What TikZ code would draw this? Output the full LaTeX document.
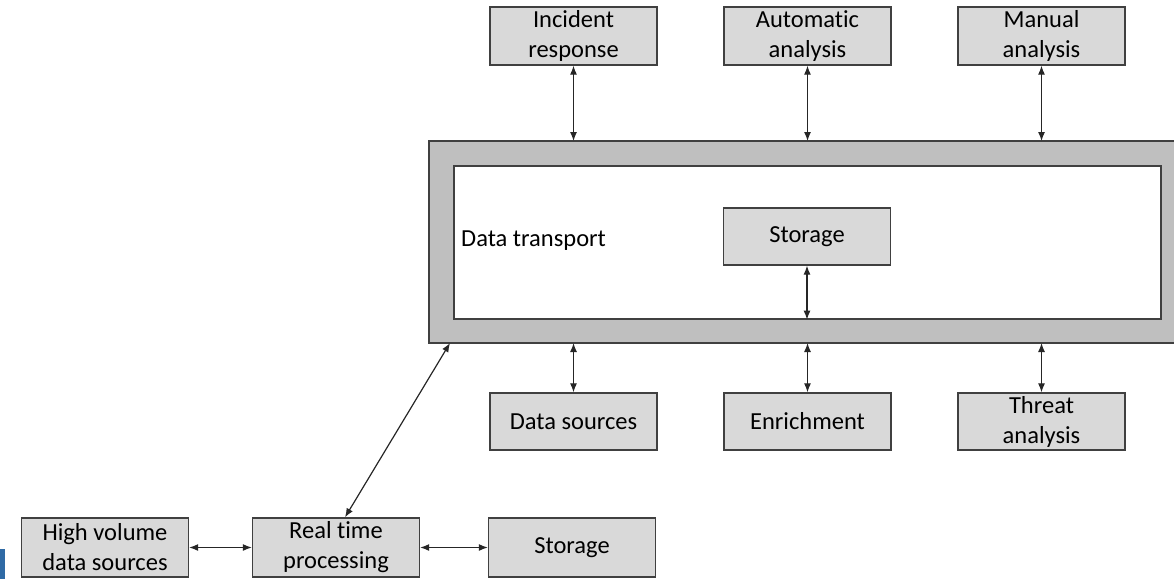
\documentclass[tikz,border=0pt]{standalone}
\usepackage{fontspec}
\setmainfont{Carlito}[Ligatures=NoCommon]
\usetikzlibrary{arrows.meta}
\definecolor{boxfill}{HTML}{D9D9D9}
\definecolor{framefill}{HTML}{BFBFBF}
\definecolor{edge}{HTML}{404040}
\definecolor{markblue}{HTML}{2F6AA5}
\begin{document}
\begin{tikzpicture}[x=1pt,y=-1pt,
  gbox/.style={draw=edge, line width=1.3pt, fill=boxfill, minimum width=167pt, minimum height=58pt,
    inner sep=0pt, align=center, font=\fontsize{24.5}{30}\selectfont},
  link/.style={{Latex[length=9pt,width=7pt]}-{Latex[length=9pt,width=7pt]}, line width=1.2pt, draw=black!85},
  lbl/.style={font=\fontsize{24.5}{30}\selectfont, inner sep=0pt}]
\useasboundingbox (0,0) rectangle (1174,579);
% blue mark
\fill[markblue] (0,549) rectangle (5,579);
% outer frame
\fill[framefill] (429,141) rectangle (1174,343);
\draw[edge, line width=1.3pt] (1174,141) -- (429,141) -- (429,343) -- (1174,343);
\coordinate (outerNW) at (429,141);
\coordinate (outerSW) at (429,343);
\node[draw=edge, line width=1.3pt, fill=white, minimum width=707pt, minimum height=153pt, inner sep=0pt] (inner) at (807.5,242.5) {};
\node[lbl, anchor=west] (dt) at (461,241) {Data transport};
\node[gbox, minimum height=57pt] (store) at (807,236.5) {Storage};
% top boxes
\node[gbox] (ir) at (573.5,36) {Incident\\response};
\node[gbox] (aa) at (807.5,36) {Automatic\\analysis};
\node[gbox] (ma) at (1041.5,36) {Manual\\analysis};
% bottom boxes
\node[gbox, minimum height=57pt] (ds) at (573.5,421.5) {Data sources};
\node[gbox, minimum height=57pt] (en) at (807.5,421.5) {Enrichment};
\node[gbox, minimum height=57pt] (ta) at (1041.5,421.5) {Threat\\analysis};
% bottom row
\node[gbox, minimum height=59pt] (hv) at (105,547.5) {High volume\\data sources};
\node[gbox, minimum height=59pt] (rt) at (336,547.5) {Real time\\processing};
\node[gbox, minimum height=59pt] (st2) at (572,547.5) {Storage};
% connectors
\draw[link] (ir.south) -- (ir.south |- outerNW);
\draw[link] (aa.south) -- (aa.south |- outerNW);
\draw[link] (ma.south) -- (ma.south |- outerNW);
\draw[link] (ds.north) -- (ds.north |- outerSW);
\draw[link] (en.north) -- (en.north |- outerSW);
\draw[link] (ta.north) -- (ta.north |- outerSW);
\draw[link] (store.south) -- (store.south |- inner.south);
\draw[link] (hv.east) -- (rt.west);
\draw[link] (rt.east) -- (st2.west);
\draw[link] ([xshift=9pt]rt.north) -- ([xshift=21pt]outerSW);
\end{tikzpicture}
\end{document}
